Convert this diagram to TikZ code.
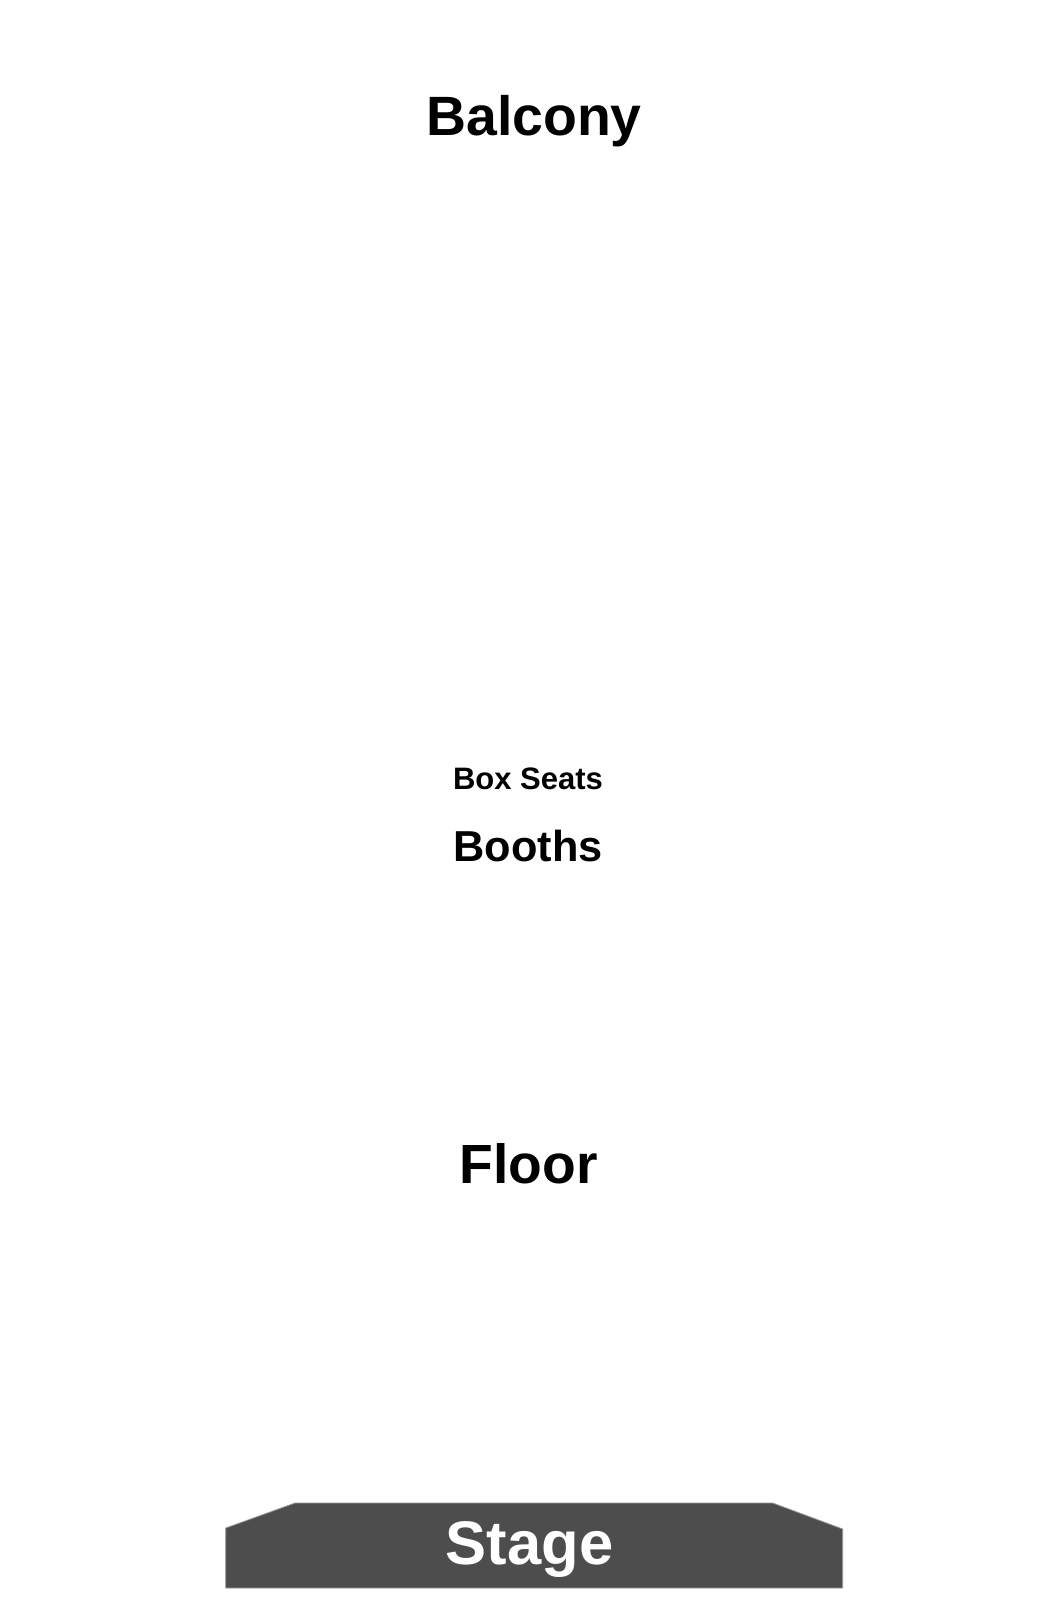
\documentclass[tikz,border=0pt]{standalone}
\usepackage{fontspec}
\setmainfont{Liberation Sans}
\begin{document}
\begin{tikzpicture}[x=1pt,y=-1pt,
  lbl/.style={anchor=base,inner sep=0pt,font=\bfseries},
  stagefill/.style={fill=stagegrey,draw=edgegrey,line width=0.8pt}]
\definecolor{stagegrey}{HTML}{4D4D4D}
\definecolor{edgegrey}{HTML}{9A9A9A}
\useasboundingbox[fill=white](0,0)rectangle(1050,1608);
\draw[stagefill](225.7,1588)--(225.7,1528)--(295,1503)--(772.7,1503)--(842.7,1529)--(842.7,1588)--cycle;
\node[lbl,font=\bfseries\fontsize{55.4}{60}\selectfont](balcony)at(534,136){Balcony};
\node[lbl,font=\bfseries\fontsize{31}{34}\selectfont](boxseats)at(528,789){Box Seats};
\node[lbl,font=\bfseries\fontsize{43.3}{48}\selectfont](booths)at(528,861){Booths};
\node[lbl,font=\bfseries\fontsize{55.2}{60}\selectfont](floor)at(528.5,1183){Floor};
\node[lbl,white,font=\bfseries\fontsize{61.5}{66}\selectfont](stage)at(529.5,1564){Stage};
\end{tikzpicture}
\end{document}
